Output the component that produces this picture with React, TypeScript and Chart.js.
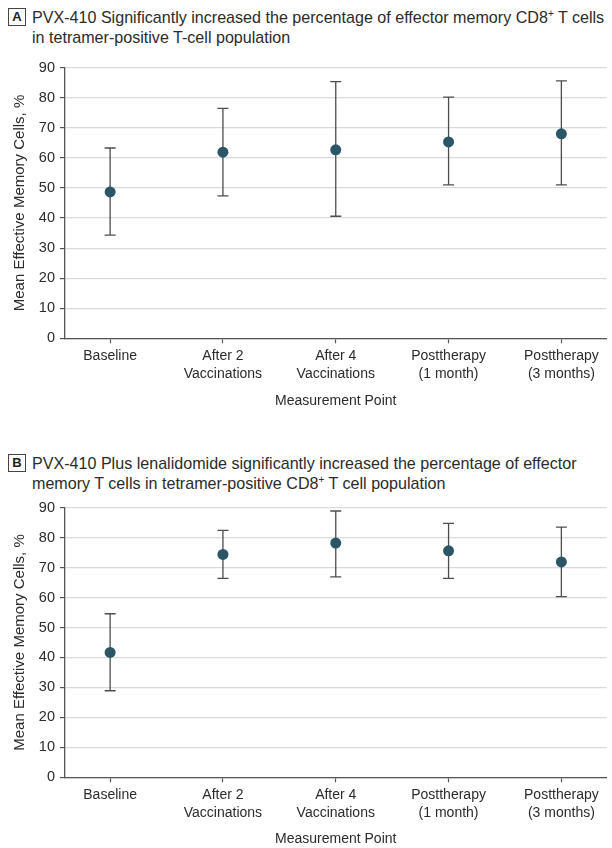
import React, { useEffect, useRef } from "react";
import { Chart, registerables } from "chart.js";

Chart.register(...registerables);

// ---- Data ----
const categories: string[][] = [
  ["Baseline"],
  ["After 2", "Vaccinations"],
  ["After 4", "Vaccinations"],
  ["Posttherapy", "(1 month)"],
  ["Posttherapy", "(3 months)"],
];
const yTickValues = [0, 10, 20, 30, 40, 50, 60, 70, 80, 90];

const meanA = [48.7, 61.9, 62.7, 65.3, 68.0];
const lowerA = [34.3, 47.4, 40.6, 51.0, 51.0];
const upperA = [63.3, 76.5, 85.4, 80.2, 85.6];

const meanB = [41.7, 74.4, 78.2, 75.6, 71.9];
const lowerB = [28.9, 66.4, 66.9, 66.4, 60.3];
const upperB = [54.6, 82.4, 88.9, 84.8, 83.5];

const xTitle = "Measurement Point";
const yTitle = "Mean Effective Memory Cells, %";

const FONT = '"Liberation Sans", Arial, Helvetica, sans-serif';
const TEXT = "#2b2b2b";
const AXIS = "#555555";
const GRID = "#dadada";
const POINT = "#2b5666";
const BAR = "#4d4d4d";

const errorBarsPlugin = {
  id: "errorBars",
  beforeDatasetsDraw(chart: any, _args: any, opts: any) {
    const { ctx } = chart;
    const xs = chart.scales.x;
    const ys = chart.scales.y;
    const lower: number[] = opts.lower || [];
    const upper: number[] = opts.upper || [];
    ctx.save();
    ctx.strokeStyle = BAR;
    ctx.lineWidth = 1.3;
    for (let i = 0; i < lower.length; i++) {
      const x = xs.getPixelForValue(i);
      const yl = ys.getPixelForValue(lower[i]);
      const yu = ys.getPixelForValue(upper[i]);
      const cap = 5.5;
      ctx.beginPath();
      ctx.moveTo(x, yl);
      ctx.lineTo(x, yu);
      ctx.moveTo(x - cap, yl);
      ctx.lineTo(x + cap, yl);
      ctx.moveTo(x - cap, yu);
      ctx.lineTo(x + cap, yu);
      ctx.stroke();
    }
    ctx.restore();
  },
};

function ErrorChart(props: {
  top: number;
  height: number;
  mean: number[];
  lower: number[];
  upper: number[];
  padTop: number;
  xAxisHeight: number;
}) {
  const ref = useRef<HTMLCanvasElement>(null);
  useEffect(() => {
    if (!ref.current) return;
    const chart = new Chart(ref.current, {
      type: "scatter",
      data: {
        datasets: [
          {
            data: props.mean.map((v, i) => ({ x: i, y: v })),
            backgroundColor: POINT,
            borderColor: POINT,
            pointRadius: 5.5,
            pointBorderWidth: 0,
          },
        ],
      },
      plugins: [errorBarsPlugin],
      options: {
        animation: false,
        responsive: false,
        events: [],
        layout: { padding: { top: props.padTop, right: 1, left: 0, bottom: 0 } },
        plugins: {
          legend: { display: false },
          tooltip: { enabled: false },
          errorBars: { lower: props.lower, upper: props.upper },
        } as any,
        scales: {
          x: {
            type: "linear",
            min: -0.4,
            max: 4.4,
            afterBuildTicks: (s: any) => {
              s.ticks = categories.map((_, i) => ({ value: i }));
            },
            afterFit: (s: any) => {
              s.height = props.xAxisHeight;
            },
            grid: {
              drawOnChartArea: false,
              drawTicks: true,
              tickLength: 5,
              tickColor: AXIS,
              tickWidth: 1.2,
            },
            border: { color: AXIS, width: 1.3 },
            ticks: {
              callback: (v: any) => categories[v as number],
              autoSkip: false,
              maxRotation: 0,
              minRotation: 0,
              padding: 4,
              color: TEXT,
              font: { family: FONT, size: 14, lineHeight: 1.3 },
            },
            title: {
              display: true,
              text: xTitle,
              color: TEXT,
              font: { family: FONT, size: 14 },
              padding: { top: 0, bottom: 0 },
            },
          },
          y: {
            min: 0,
            max: 90,
            afterBuildTicks: (s: any) => {
              s.ticks = yTickValues.map((v) => ({ value: v }));
            },
            afterFit: (s: any) => {
              s.width = 65;
            },
            grid: {
              color: GRID,
              lineWidth: 1.2,
              drawTicks: true,
              tickLength: 5,
              tickColor: AXIS,
              tickWidth: 1.2,
            },
            border: { color: AXIS, width: 1.3 },
            ticks: {
              padding: 5,
              color: TEXT,
              font: { family: FONT, size: 14.5 },
            },
            title: {
              display: true,
              text: yTitle,
              color: TEXT,
              font: { family: FONT, size: 15 },
              padding: { top: 11, bottom: 0 },
            },
          },
        },
      } as any,
    });
    return () => chart.destroy();
  }, []);
  return (
    <canvas
      ref={ref}
      width={612}
      height={props.height}
      style={{ position: "absolute", left: 0, top: props.top, width: 612, height: props.height }}
    />
  );
}

function Header(props: { top: number; letter: string; children: React.ReactNode }) {
  return (
    <>
      <div
        style={{
          position: "absolute",
          left: 8,
          top: props.top + 1,
          width: 18,
          height: 18,
          border: "1px solid #444",
          boxSizing: "border-box",
          fontFamily: FONT,
          fontWeight: "bold",
          fontSize: 13,
          lineHeight: "16px",
          textAlign: "center",
          color: "#222",
        }}
      >
        {props.letter}
      </div>
      <div
        style={{
          position: "absolute",
          left: 32,
          top: props.top,
          fontFamily: FONT,
          fontSize: 16.1,
          lineHeight: "20px",
          color: TEXT,
          whiteSpace: "nowrap",
        }}
      >
        {props.children}
      </div>
    </>
  );
}

const sup = { fontSize: 10, verticalAlign: "top", lineHeight: "14px" } as React.CSSProperties;

export default function App() {
  return (
    <div
      style={{
        position: "fixed",
        left: 0,
        top: 0,
        width: 612,
        height: 848,
        background: "#fff",
        overflow: "hidden",
      }}
    >
      <Header top={7} letter="A">
        PVX-410 Significantly increased the percentage of effector memory CD8<span style={sup}>+</span> T cells
        <br />
        in tetramer-positive T-cell population
      </Header>
      <ErrorChart top={54} height={356} mean={meanA} lower={lowerA} upper={upperA} padTop={12.3} xAxisHeight={71.7} />
      <Header top={453} letter="B">
        PVX-410 Plus lenalidomide significantly increased the percentage of effector
        <br />
        memory T cells in tetramer-positive CD8<span style={sup}>+</span> T cell population
      </Header>
      <ErrorChart top={494} height={354} mean={meanB} lower={lowerB} upper={upperB} padTop={12.3} xAxisHeight={70.7} />
    </div>
  );
}
